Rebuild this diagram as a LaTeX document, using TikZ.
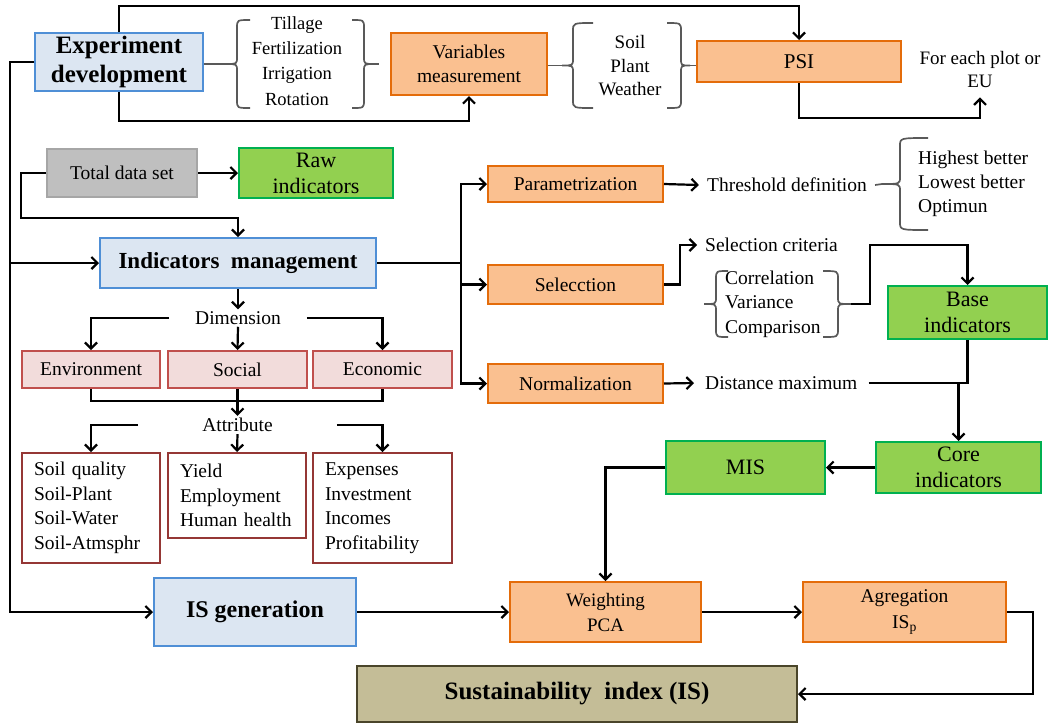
\documentclass[tikz,border=0pt]{standalone}
\usepackage{fontspec}
\setmainfont{Liberation Serif}
\usetikzlibrary{arrows.meta}
\definecolor{bluefill}{HTML}{DCE6F2}
\definecolor{blueline}{HTML}{4F8FD6}
\definecolor{orfill}{HTML}{FAC090}
\definecolor{orline}{HTML}{E46C0A}
\definecolor{grfill}{HTML}{BFBFBF}
\definecolor{grline}{HTML}{A6A6A6}
\definecolor{gnfill}{HTML}{92D050}
\definecolor{gnline}{HTML}{00B050}
\definecolor{pkfill}{HTML}{F2DCDB}
\definecolor{pkline}{HTML}{C0504D}
\definecolor{rdline}{HTML}{953735}
\definecolor{olfill}{HTML}{C4BD97}
\definecolor{olline}{HTML}{4A452A}
\definecolor{brcol}{HTML}{595959}
% #1 arm end x, #2 vertical x, #3 tip x, #4 top y, #5 bottom y, #6 tip name
\newcommand\mybrace[6]{%
  \draw[brc] (#1,#4) .. controls (#2,#4) .. (#2,{#4+8})
    -- (#2,{(#4+#5)/2-7}) .. controls (#2,{(#4+#5)/2}) .. (#3,{(#4+#5)/2})
    .. controls (#2,{(#4+#5)/2}) .. (#2,{(#4+#5)/2+7})
    -- (#2,{#5-8}) .. controls (#2,#5) .. (#1,#5);
  \coordinate (#6) at (#3,{(#4+#5)/2});}
\begin{document}
\begin{tikzpicture}[x=1pt,y=-1pt,
  every node/.style={font=\fontsize{19.5}{24.5}\selectfont},
  bx/.style={draw, line width=2pt, inner sep=0pt, align=center},
  bluebox/.style={bx, draw=blueline, fill=bluefill, font=\bfseries\fontsize{23}{29}\selectfont},
  orbox/.style={bx, draw=orline, fill=orfill},
  greybox/.style={bx, draw=grline, fill=grfill},
  greenbox/.style={bx, draw=gnline, fill=gnfill, font=\fontsize{22}{26}\selectfont},
  pinkbox/.style={bx, draw=pkline, fill=pkfill},
  listbox/.style={bx, draw=rdline, fill=white, align=left, inner xsep=12pt},
  olivebox/.style={bx, draw=olline, fill=olfill, font=\bfseries\fontsize{25}{30}\selectfont},
  lbl/.style={inner sep=2pt, align=center},
  conn/.style={draw=black, line width=2.2pt},
  arr/.style={conn, -{Straight Barb[length=6pt,width=12pt]}},
  brc/.style={draw=brcol, line width=1.7pt},
]
\useasboundingbox (0,0) rectangle (1052,724);

% ---------- boxes ----------
\node[bluebox, minimum width=168, minimum height=58, font=\bfseries\fontsize{25}{29}\selectfont] (exp) at (119,62) {Experiment\\development};
\node[orbox, minimum width=156, minimum height=62] (var) at (469,64) {Variables\\measurement};
\node[orbox, minimum width=204, minimum height=41, font=\fontsize{21}{24}\selectfont] (psi) at (799,61.5) {PSI};
\node[greybox, minimum width=150, minimum height=48] (tds) at (122,173) {Total data set};
\node[greenbox, minimum width=154, minimum height=50] (raw) at (316,173) {Raw\\indicators};
\node[bluebox, minimum width=276, minimum height=50] (im) at (238,263) {Indicators\ \ management};
\node[orbox, minimum width=175, minimum height=36] (par) at (575.5,184) {Parametrization};
\node[orbox, minimum width=175, minimum height=39] (sel) at (575.5,284.5) {Selecction};
\node[orbox, minimum width=175, minimum height=39] (nor) at (575.5,383.5) {Normalization};
\node[greenbox, minimum width=159, minimum height=53] (base) at (967.5,312.5) {Base\\indicators};
\node[greenbox, minimum width=165, minimum height=51] (core) at (958.5,467.5) {Core\\indicators};
\node[greenbox, minimum width=159, minimum height=53] (mis) at (745.5,467.5) {MIS};
\node[pinkbox, minimum width=138, minimum height=37] (env) at (91,369.5) {Environment};
\node[pinkbox, minimum width=139, minimum height=37] (soc) at (237.5,369.5) {Social};
\node[pinkbox, minimum width=139, minimum height=37] (eco) at (382.5,369.5) {Economic};
\node[listbox, text width=114, minimum height=110] (soil) at (91,508) {Soil quality\\Soil-Plant\\Soil-Water\\Soil-Atmsphr};
\node[listbox, text width=114, minimum height=85] (yield) at (237,495.5) {Yield\\Employment\\Human\ health};
\node[listbox, text width=115, minimum height=110] (expn) at (382.5,508) {Expenses\\Investment\\Incomes\\Profitability};
\node[bluebox, minimum width=202, minimum height=68, font=\bfseries\fontsize{24}{29}\selectfont] (isg) at (255,612) {IS generation};
\node[orbox, minimum width=191, minimum height=60, font=\fontsize{19}{25}\selectfont] (wei) at (605.5,612) {Weighting\\PCA};
\node[orbox, minimum width=203, minimum height=60, font=\fontsize{19.5}{26}\selectfont] (agr) at (904.5,612) {Agregation\\IS\textsubscript{p}};
\node[olivebox, minimum width=440, minimum height=56] (sus) at (577,694) {Sustainability\ \ index (IS)};

% ---------- free texts ----------
\node[lbl, font=\fontsize{18.5}{25.3}\selectfont] (g1t) at (297,61) {Tillage\\Fertilization\\Irrigation\\Rotation};
\node[lbl, font=\fontsize{19}{23.5}\selectfont] (g2t) at (630,66) {Soil\\Plant\\Weather};
\node[lbl, inner ysep=10pt, font=\fontsize{19}{23}\selectfont] (each) at (980,69) {For each plot or\\EU};
\node[lbl, inner xsep=8pt] (thr) at (787,185) {Threshold definition};
\node[lbl, align=left, anchor=west, font=\fontsize{19.5}{24}\selectfont] (hlo) at (916,184) {Highest\ better\\Lowest better\\Optimun};
\node[lbl, inner xsep=8pt, anchor=west] (crit) at (697,245) {Selection criteria};
\node[lbl, align=left, anchor=west, font=\fontsize{19.5}{24.5}\selectfont] (corr) at (723,304) {Correlation\\Variance\\Comparison};
\node[lbl, inner xsep=11pt, anchor=west] (dist) at (694,383) {Distance maximum};
\node[lbl, inner xsep=26pt] (dim) at (238,318) {Dimension};
\node[lbl, inner xsep=64pt] (att) at (237.5,425) {Attribute};

% ---------- braces ----------
\mybrace{250}{237}{226}{20}{108}{g1l}
\mybrace{352}{364}{375}{20}{108}{g1r}
\mybrace{593}{573}{562}{23}{108}{g2l}
\mybrace{667}{681}{690}{23}{108}{g2r}
\mybrace{928}{900}{882}{138}{230}{thb}
\mybrace{728}{716}{704}{271}{337}{g3l}
\mybrace{823}{838}{851}{271}{337}{g3r}

% ---------- connectors ----------
\draw[brc] (exp.east |- g1l) -- (g1l);
\draw[brc] (g1r) -- ++(4,0);
\draw[brc] (var.east |- g2l) -- (g2l);
\draw[brc] (g2r) -- (psi.west |- g2r);
\draw[arr] (exp.north) -- ++(0,-26) -| (psi.north);
\draw[arr] (exp.south) -- ++(0,29) -| (var.south);
\draw[arr] (psi.south) -- ++(0,35) -| (each.south);
\coordinate (tk) at (10,62);
\draw[arr] (exp.west) -- (tk) |- (isg.west);
\draw[arr] (im.west -| tk) -- (im.west);
\draw[arr] (tds.east) -- (raw.west);
\draw[arr] (tds.west) -| (21,218) -| (im.north);
\coordinate (hub) at (461,263);
\draw[conn] (im.east) -- (hub);
\draw[arr] (hub) |- (par.west);
\draw[arr] (hub) |- (sel.west);
\draw[arr] (hub) |- (nor.west);
\draw[arr] (im.south) -- (dim.north);
\draw[arr] (dim.west) -| (env.north);
\draw[arr] (dim.east) -| (eco.north);
\draw[arr] (dim.south) -- (soc.north);
\draw[conn] (env.south) -- ++(0,12) -| (eco.south);
\draw[arr] (soc.south) -- (att.north);
\draw[arr] (att.west) -| (soil.north);
\draw[arr] (att.south) -- (yield.north);
\draw[arr] (att.east) -| (expn.north);
\draw[arr] (par.east) -- (thr.west);
\draw[brc] (thr.east) -- (thb);
\draw[arr] (sel.east) -- ++(16,0) |- (crit.west);
\draw[arr] (g3r) -| (870,245) -| (base.north);
\draw[arr] (nor.east) -- (dist.west);
\coordinate (jn) at (967.5,384);
\draw[conn] (dist.east) -- (jn |- dist.east);
\draw[conn] (base.south) -- (jn);
\draw[arr] (jn -| core.north) -- (core.north);
\draw[arr] (core.west) -- (mis.east);
\draw[arr] (mis.west) -| (wei.north);
\draw[arr] (isg.east) -- (wei.west);
\draw[arr] (wei.east) -- (agr.west);
\draw[arr] (agr.east) -- ++(26,0) |- (sus.east);
\end{tikzpicture}
\end{document}
